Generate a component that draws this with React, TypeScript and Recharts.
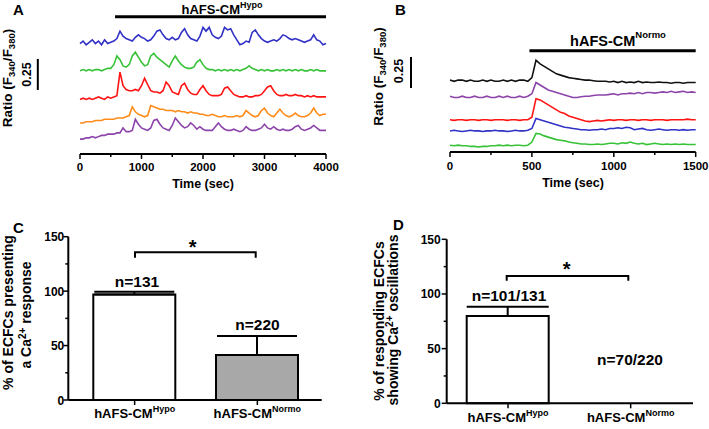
import React from "react";
import { LineChart, Line, XAxis, YAxis, ReferenceLine, BarChart, Bar, Cell, ErrorBar } from "recharts";

// ---- panel A: hypoxic CM, 0-4000 s (traces stacked, ratio units + offset)
const timeA = [
  0, 50, 100, 150, 200, 250, 300, 350, 400, 450,
  500, 550, 600, 650, 700, 750, 800, 850, 900, 950,
  1000, 1050, 1100, 1150, 1200, 1250, 1300, 1350, 1400, 1450,
  1500, 1550, 1600, 1650, 1700, 1750, 1800, 1850, 1900, 1950,
  2000, 2050, 2100, 2150, 2200, 2250, 2300, 2350, 2400, 2450,
  2500, 2550, 2600, 2650, 2700, 2750, 2800, 2850, 2900, 2950,
  3000, 3050, 3100, 3150, 3200, 3250, 3300, 3350, 3400, 3450,
  3500, 3550, 3600, 3650, 3700, 3750, 3800, 3850, 3900, 3950,
  4000,
];
const blueA = [
  0.89, 0.91, 0.88, 0.9, 0.92, 0.89, 0.91, 0.88, 0.92, 0.89,
  0.9, 0.91, 0.93, 0.99, 0.95, 0.93, 0.92, 0.91, 0.94, 0.96,
  0.94, 0.93, 0.91, 0.92, 0.95, 0.99, 1.0, 0.96, 0.93, 0.92,
  0.94, 0.92, 0.93, 0.98, 1.01, 0.96, 0.93, 0.92, 0.91, 0.95,
  1.02, 0.99, 1.02, 0.96, 0.94, 0.93, 0.95, 1.02, 1.0, 1.01,
  0.96, 0.92, 0.88, 0.89, 0.91, 0.9, 0.98, 1.0, 0.96, 0.93,
  0.91, 0.9, 0.91, 0.92, 0.91, 0.93, 0.96, 0.95, 0.93, 0.92,
  0.93, 0.92, 0.91, 0.9, 0.91, 0.92, 0.96, 0.92, 0.91, 0.88,
  0.89,
];
const greenA = [
  0.67, 0.68, 0.67, 0.68, 0.67, 0.68, 0.68, 0.67, 0.68, 0.69,
  0.69, 0.72, 0.79, 0.76, 0.71, 0.7, 0.72, 0.79, 0.82, 0.78,
  0.74, 0.71, 0.72, 0.79, 0.81, 0.78, 0.76, 0.74, 0.72, 0.7,
  0.75, 0.79, 0.75, 0.72, 0.7, 0.69, 0.69, 0.7, 0.74, 0.76,
  0.72, 0.69, 0.68, 0.68, 0.67, 0.68, 0.67, 0.68, 0.67, 0.68,
  0.67, 0.68, 0.67, 0.68, 0.69, 0.71, 0.69, 0.68, 0.67, 0.68,
  0.67, 0.68, 0.67, 0.67, 0.68, 0.67, 0.68, 0.67, 0.68, 0.67,
  0.68, 0.67, 0.68, 0.67, 0.67, 0.68, 0.67, 0.68, 0.67, 0.67,
  0.67,
];
const redA = [
  0.44, 0.45, 0.44, 0.45, 0.44, 0.45, 0.46, 0.45, 0.44, 0.46,
  0.45, 0.46, 0.47, 0.66, 0.55, 0.52, 0.51, 0.51, 0.52, 0.51,
  0.55, 0.61, 0.56, 0.51, 0.5, 0.5, 0.49, 0.51, 0.58, 0.55,
  0.5, 0.49, 0.48, 0.55, 0.57, 0.52, 0.49, 0.48, 0.48, 0.52,
  0.55, 0.51, 0.48, 0.47, 0.47, 0.47, 0.48, 0.53, 0.54, 0.51,
  0.48, 0.47, 0.46, 0.46, 0.47, 0.46, 0.46, 0.47, 0.47, 0.48,
  0.51, 0.54, 0.55, 0.51, 0.48, 0.47, 0.47, 0.48, 0.47, 0.47,
  0.48, 0.47, 0.47, 0.46, 0.47, 0.46, 0.47, 0.46, 0.46, 0.46,
  0.46,
];
const orangeA = [
  0.25, 0.25, 0.26, 0.26, 0.26, 0.27, 0.27, 0.27, 0.28, 0.28,
  0.28, 0.28, 0.29, 0.29, 0.29, 0.3, 0.31, 0.38, 0.34, 0.32,
  0.31, 0.3, 0.31, 0.39, 0.38, 0.37, 0.36, 0.36, 0.35, 0.35,
  0.35, 0.34, 0.35, 0.34, 0.34, 0.33, 0.34, 0.33, 0.33, 0.32,
  0.32, 0.31, 0.31, 0.32, 0.31, 0.3, 0.3, 0.31, 0.3, 0.3,
  0.3, 0.31, 0.3, 0.31, 0.35, 0.33, 0.31, 0.3, 0.31, 0.35,
  0.37, 0.33, 0.31, 0.3, 0.33, 0.36, 0.33, 0.31, 0.3, 0.31,
  0.33, 0.31, 0.3, 0.3, 0.31, 0.33, 0.37, 0.33, 0.31, 0.32,
  0.32,
];
const purpleA = [
  0.12, 0.12, 0.13, 0.13, 0.14, 0.13, 0.14, 0.15, 0.15, 0.16,
  0.16, 0.16, 0.17, 0.17, 0.21, 0.18, 0.18, 0.19, 0.28, 0.24,
  0.21, 0.2, 0.19, 0.21, 0.27, 0.28, 0.24, 0.21, 0.2, 0.19,
  0.23, 0.29, 0.26, 0.23, 0.21, 0.22, 0.25, 0.23, 0.2, 0.22,
  0.2, 0.19, 0.19, 0.19, 0.22, 0.25, 0.22, 0.2, 0.19, 0.19,
  0.2, 0.19, 0.18, 0.19, 0.22, 0.2, 0.19, 0.19, 0.2, 0.21,
  0.24, 0.21, 0.2, 0.22, 0.2, 0.19, 0.2, 0.19, 0.19, 0.2,
  0.22, 0.23, 0.2, 0.19, 0.2, 0.21, 0.23, 0.21, 0.19, 0.19,
  0.19,
];

// ---- panel B: normoxic CM, 0-1500 s
const timeB = [
  0, 25, 50, 75, 100, 125, 150, 175, 200, 225,
  250, 275, 300, 325, 350, 375, 400, 425, 450, 475,
  500, 525, 550, 575, 600, 625, 650, 675, 700, 725,
  750, 775, 800, 825, 850, 875, 900, 925, 950, 975,
  1000, 1025, 1050, 1075, 1100, 1125, 1150, 1175, 1200, 1225,
  1250, 1275, 1300, 1325, 1350, 1375, 1400, 1425, 1450, 1475,
  1500,
];
const blackB = [
  0.58, 0.57, 0.58, 0.58, 0.57, 0.58, 0.57, 0.57, 0.58, 0.57,
  0.58, 0.57, 0.57, 0.58, 0.57, 0.58, 0.57, 0.58, 0.58, 0.57,
  0.6, 0.74, 0.71, 0.69, 0.67, 0.65, 0.63, 0.62, 0.61, 0.6,
  0.595, 0.59, 0.585, 0.58, 0.58, 0.575, 0.57, 0.57, 0.57, 0.565,
  0.57, 0.56, 0.57, 0.56, 0.565, 0.56, 0.57, 0.56, 0.565, 0.56,
  0.56, 0.565, 0.56, 0.56, 0.555, 0.56, 0.56, 0.555, 0.56, 0.56,
  0.56,
];
const purpleB = [
  0.45, 0.44, 0.44, 0.45, 0.44, 0.44, 0.45, 0.44, 0.44, 0.45,
  0.44, 0.44, 0.45, 0.44, 0.45, 0.44, 0.44, 0.45, 0.44, 0.45,
  0.47, 0.56, 0.54, 0.52, 0.5, 0.49, 0.48, 0.47, 0.46, 0.45,
  0.44, 0.44, 0.445, 0.45, 0.45, 0.455, 0.46, 0.46, 0.46, 0.465,
  0.47, 0.46, 0.47, 0.47, 0.475, 0.47, 0.48, 0.47, 0.48, 0.48,
  0.475, 0.48, 0.485, 0.48, 0.49, 0.48, 0.485, 0.49, 0.48, 0.485,
  0.48,
];
const redB = [
  0.26, 0.255, 0.26, 0.26, 0.255, 0.26, 0.26, 0.255, 0.26, 0.26,
  0.255, 0.26, 0.26, 0.26, 0.255, 0.26, 0.26, 0.255, 0.26, 0.26,
  0.28, 0.43, 0.42, 0.4, 0.38, 0.36, 0.34, 0.32, 0.31, 0.29,
  0.28, 0.27, 0.26, 0.25, 0.245, 0.25, 0.255, 0.25, 0.255, 0.26,
  0.255, 0.26, 0.26, 0.255, 0.26, 0.26, 0.255, 0.26, 0.26, 0.255,
  0.26, 0.26, 0.26, 0.255, 0.26, 0.26, 0.26, 0.26, 0.265, 0.26,
  0.26,
];
const blueB = [
  0.17, 0.175, 0.17, 0.165, 0.17, 0.175, 0.17, 0.17, 0.165, 0.17,
  0.17, 0.175, 0.17, 0.17, 0.165, 0.17, 0.175, 0.17, 0.17, 0.175,
  0.19, 0.27, 0.26, 0.25, 0.24, 0.23, 0.22, 0.21, 0.2, 0.195,
  0.19, 0.185, 0.18, 0.18, 0.175, 0.18, 0.18, 0.185, 0.18, 0.19,
  0.19, 0.195, 0.19, 0.2, 0.195, 0.18, 0.185, 0.19, 0.18, 0.175,
  0.18, 0.185, 0.18, 0.175, 0.18, 0.18, 0.175, 0.18, 0.175, 0.18,
  0.18,
];
const greenB = [
  0.055, 0.05, 0.055, 0.05, 0.05, 0.045, 0.045, 0.04, 0.045, 0.045,
  0.05, 0.05, 0.055, 0.05, 0.055, 0.05, 0.055, 0.055, 0.05, 0.055,
  0.08, 0.15, 0.145, 0.13, 0.12, 0.11, 0.1, 0.095, 0.09, 0.08,
  0.075, 0.07, 0.065, 0.065, 0.06, 0.06, 0.065, 0.06, 0.065, 0.07,
  0.07, 0.065, 0.075, 0.07, 0.08, 0.07, 0.065, 0.07, 0.06, 0.065,
  0.07, 0.065, 0.06, 0.065, 0.06, 0.065, 0.06, 0.065, 0.06, 0.06,
  0.06,
];

// ---- panels C / D
const conditions = ["Hypo", "Normo"];
const respondingPct = [97, 41.3];
const respondingErr = [2.5, 17.5];
const oscillatingPct = [79.8, 0];
const oscillatingErr = [8.6, 0];
const respondingN = ["n=131", "n=220"];
const oscillatingN = ["n=101/131", "n=70/220"];

const ticksA = [0, 500, 1000, 1500, 2000, 2500, 3000, 3500, 4000];
const majorA = [0, 1000, 2000, 3000, 4000];
const ticksB = [0, 250, 500, 750, 1000, 1250, 1500];
const majorB = [0, 500, 1000, 1500];
const pctTicks = [0, 25, 50, 75, 100, 125, 150];

const rowsA = timeA.map((t, i) => ({
  t, blue: blueA[i], green: greenA[i], red: redA[i], orange: orangeA[i], purple: purpleA[i],
}));
const rowsB = timeB.map((t, i) => ({
  t, black: blackB[i], purple: purpleB[i], red: redB[i], blue: blueB[i], green: greenB[i],
}));
const rowsC = conditions.map((c, i) => ({ cond: c, pct: respondingPct[i], err: [0, respondingErr[i]] }));
const rowsD = conditions.map((c, i) => ({ cond: c, pct: oscillatingPct[i], err: [0, oscillatingErr[i]] }));

const FONT = "Arial, 'Liberation Sans', Helvetica, sans-serif";
const axisLine = { stroke: "#000", strokeWidth: 2 };

const timeTick = (majors: number[], dyLabel: number) => (props: any) => {
  const { x, y, payload } = props;
  const major = majors.includes(payload.value);
  return (
    <g>
      <line x1={x} x2={x} y1={y} y2={y + (major ? 5 : 3)} stroke="#000" strokeWidth={1.5} />
      {major && (
        <text x={x} y={y + dyLabel} textAnchor="middle" fontSize={11.5} fontWeight="bold" fill="#000">
          {payload.value}
        </text>
      )}
    </g>
  );
};

const pctTick = (gap: number) => (props: any) => {
  const { x, y, payload } = props;
  const major = payload.value % 50 === 0;
  return (
    <g>
      <line x1={x - (major ? 5 : 3)} x2={x} y1={y} y2={y} stroke="#000" strokeWidth={1.5} />
      {major && (
        <text x={x - gap} y={y + 4.5} textAnchor="end" fontSize={12} fontWeight="bold" fill="#000">
          {payload.value}
        </text>
      )}
    </g>
  );
};

const condTick = (props: any) => {
  const { x, y, payload } = props;
  return (
    <g>
      <line x1={x} x2={x} y1={y} y2={y + 5} stroke="#000" strokeWidth={1.5} />
      <text x={x} y={y + 18.4} textAnchor="middle" fontSize={13} fontWeight="bold" fill="#000">
        hAFS-CM<tspan fontSize={9} dy={-6}>{payload.value}</tspan>
      </text>
    </g>
  );
};

const line = (key: string, color: string) => (
  <Line key={key} type="linear" dataKey={key} stroke={color} strokeWidth={1.6} dot={false} isAnimationActive={false} />
);

export default function App() {
  return (
    <div style={{ position: "absolute", left: 0, top: 0, width: 709, height: 429, background: "#fff", fontFamily: FONT, fontWeight: "bold" }}>
      <div style={{ position: "absolute", left: 0, top: 0 }}>
        <LineChart width={340} height={190} data={rowsA} margin={{ top: 15, right: 14, bottom: 0, left: 80 }}>
          <XAxis dataKey="t" type="number" domain={[0, 4000]} ticks={ticksA} height={36} tickSize={0} tickMargin={0}
            tickLine={false} axisLine={axisLine} tick={timeTick(majorA, 16.5)} interval={0} />
          <YAxis hide type="number" domain={[0, 1.12]} />
          {line("blue", "#3131c6")}
          {line("green", "#38c238")}
          {line("red", "#ff1414")}
          {line("orange", "#ff8c1a")}
          {line("purple", "#8c44aa")}
          <ReferenceLine segment={[{ x: 570, y: 1.105 }, { x: 4000, y: 1.105 }]} stroke="#000" strokeWidth={3} />
          <ReferenceLine segment={[{ x: -686, y: 0.516 }, { x: -686, y: 0.766 }]} stroke="#000" strokeWidth={2} ifOverflow="visible" />
        </LineChart>
      </div>

      <div style={{ position: "absolute", left: 350, top: 0 }}>
        <LineChart width={359} height={190} data={rowsB} margin={{ top: 46.6, right: 13.3, bottom: 0, left: 100 }}>
          <XAxis dataKey="t" type="number" domain={[0, 1500]} ticks={ticksB} height={38} tickSize={0} tickMargin={0}
            tickLine={false} axisLine={axisLine} tick={timeTick(majorB, 17.5)} interval={0} />
          <YAxis hide type="number" domain={[0, 0.85]} />
          {line("black", "#111")}
          {line("purple", "#8c44aa")}
          {line("red", "#ff1414")}
          {line("blue", "#3131c6")}
          {line("green", "#38c238")}
          <ReferenceLine segment={[{ x: 485, y: 0.817 }, { x: 1500, y: 0.817 }]} stroke="#000" strokeWidth={3} />
          <ReferenceLine segment={[{ x: -238, y: 0.516 }, { x: -238, y: 0.766 }]} stroke="#000" strokeWidth={2} ifOverflow="visible" />
        </LineChart>
      </div>

      <div style={{ position: "absolute", left: 0, top: 190 }}>
        <BarChart width={340} height={239} data={rowsC} margin={{ top: 46.7, right: 18.3, bottom: 0, left: 0 }}>
          <XAxis dataKey="cond" height={29} padding={{ left: 5, right: 3 }} tickSize={0} tickMargin={0}
            tickLine={false} axisLine={axisLine} tick={condTick} interval={0} />
          <YAxis width={68.3} type="number" domain={[0, 150]} ticks={pctTicks} tickSize={0} tickMargin={0}
            tickLine={false} axisLine={axisLine} tick={pctTick(4)} interval={0} />
          <Bar dataKey="pct" barSize={82} stroke="#000" strokeWidth={2} isAnimationActive={false}>
            {rowsC.map((r, i) => (
              <Cell key={r.cond} fill={i === 0 ? "#fff" : "#a8a8a8"} />
            ))}
            <ErrorBar dataKey="err" direction="y" width={40} stroke="#000" strokeWidth={2} />
          </Bar>
        </BarChart>
      </div>

      <div style={{ position: "absolute", left: 350, top: 190 }}>
        <BarChart width={359} height={239} data={rowsD} margin={{ top: 49.3, right: 16, bottom: 0, left: 0 }}>
          <XAxis dataKey="cond" height={25.7} padding={{ left: 0, right: 1 }} tickSize={0} tickMargin={0}
            tickLine={false} axisLine={axisLine} tick={condTick} interval={0} />
          <YAxis width={96.7} type="number" domain={[0, 150]} ticks={pctTicks} tickSize={0} tickMargin={0}
            tickLine={false} axisLine={axisLine} tick={pctTick(6)} interval={0} />
          <Bar dataKey="pct" barSize={82} fill="#fff" stroke="#000" strokeWidth={2} isAnimationActive={false}>
            <ErrorBar dataKey="err" direction="y" width={41} stroke="#000" strokeWidth={2} />
          </Bar>
        </BarChart>
      </div>

      {/* labels and annotations */}
      <svg width={709} height={429} style={{ position: "absolute", left: 0, top: 0, pointerEvents: "none" }}
        fontFamily={FONT} fontWeight="bold" fill="#000">
        <text x={13} y={15} fontSize={15}>A</text>
        <text x={395} y={15} fontSize={15}>B</text>
        <text x={13} y={233} fontSize={15}>C</text>
        <text x={393} y={230} fontSize={15}>D</text>

        <text x={222} y={14} textAnchor="middle" fontSize={13}>
          hAFS-CM<tspan fontSize={9} dy={-6}>Hypo</tspan>
        </text>
        <text x={618} y={45.5} textAnchor="middle" fontSize={14.5}>
          hAFS-CM<tspan fontSize={9.5} dy={-8}>Normo</tspan>
        </text>

        <text transform="translate(11.5,78) rotate(-90)" textAnchor="middle" fontSize={13.5}>
          Ratio (F<tspan fontSize={9.5} dy={3}>340</tspan><tspan dy={-3}>/F</tspan>
          <tspan fontSize={9.5} dy={3}>380</tspan><tspan dy={-3}>)</tspan>
        </text>
        <text transform="translate(383,76.5) rotate(-90)" textAnchor="middle" fontSize={13.5}>
          Ratio (F<tspan fontSize={9.5} dy={3}>340</tspan><tspan dy={-3}>/F</tspan>
          <tspan fontSize={9.5} dy={3}>380</tspan><tspan dy={-3}>)</tspan>
        </text>
        <text transform="translate(31,74.5) rotate(-90)" textAnchor="middle" fontSize={12.5}>0.25</text>
        <text transform="translate(403,71) rotate(-90)" textAnchor="middle" fontSize={12.5}>0.25</text>

        <text x={203} y={187.5} textAnchor="middle" fontSize={12.5}>Time (sec)</text>
        <text x={573} y={186.5} textAnchor="middle" fontSize={12.5}>Time (sec)</text>

        <text transform="translate(12.5,312.5) rotate(-90)" textAnchor="middle" fontSize={14}>% of ECFCs presenting</text>
        <text transform="translate(30.5,315) rotate(-90)" textAnchor="middle" fontSize={14}>
          a Ca<tspan fontSize={10} dy={-5}>2+</tspan><tspan dy={5}> response</tspan>
        </text>
        <text transform="translate(384,321) rotate(-90)" textAnchor="middle" fontSize={14}>% of responding ECFCs</text>
        <text transform="translate(397.5,320) rotate(-90)" textAnchor="middle" fontSize={14}>
          showing Ca<tspan fontSize={10} dy={-5}>2+</tspan><tspan dy={5}> oscillations</tspan>
        </text>

        <path d="M135,257.7 V252.3 H255.7 V257.7" fill="none" stroke="#000" strokeWidth={2} />
        <text x={192.7} y={254} textAnchor="middle" fontSize={20}>*</text>
        <path d="M506.7,280.7 V276 H628.3 V280.7" fill="none" stroke="#000" strokeWidth={2} />
        <text x={566.7} y={276} textAnchor="middle" fontSize={20}>*</text>

        <text x={137} y={286.5} textAnchor="middle" fontSize={15.5}>{respondingN[0]}</text>
        <text x={257.5} y={330} textAnchor="middle" fontSize={15.5}>{respondingN[1]}</text>
        <text x={509} y={301} textAnchor="middle" fontSize={15.5}>{oscillatingN[0]}</text>
        <text x={630} y={365} textAnchor="middle" fontSize={15.5}>{oscillatingN[1]}</text>
      </svg>
    </div>
  );
}
